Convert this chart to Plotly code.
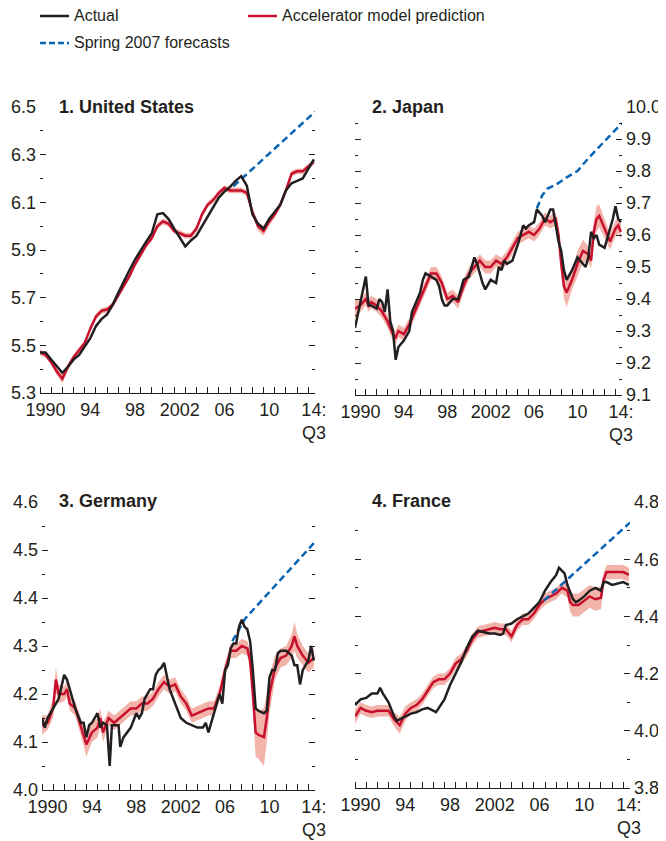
import plotly.graph_objects as go

# ---------------- DATA ----------------
years_labels = ['1990', '94', '98', '2002', '06', '10', '14:<br>Q3']
label_pos = [1990.5, 1994.5, 1998.5, 2002.5, 2006.5, 2010.5, 2014.5]
year_ticks = list(range(1990, 2015))

# United States
us_x = [1990.0 + 0.5 * i for i in range(50)]
us_actual = [5.47, 5.47, 5.44, 5.41, 5.385, 5.41, 5.44, 5.46, 5.495, 5.53,
             5.58, 5.61, 5.63, 5.67, 5.72, 5.77, 5.815, 5.86, 5.90, 5.935,
             5.97, 6.05, 6.055, 6.03, 5.99, 5.95, 5.915, 5.94, 5.96, 6.0,
             6.04, 6.08, 6.12, 6.145, 6.165, 6.19, 6.21, 6.17, 6.05, 6.01,
             5.99, 6.03, 6.06, 6.09, 6.15, 6.18, 6.19, 6.20, 6.24, 6.28]
us_pred = [5.47, 5.46, 5.43, 5.39, 5.36, 5.41, 5.45, 5.48, 5.51, 5.57,
           5.62, 5.645, 5.65, 5.67, 5.71, 5.75, 5.79, 5.84, 5.88, 5.92,
           5.95, 6.00, 6.02, 6.01, 5.98, 5.97, 5.96, 5.96, 5.99, 6.05,
           6.09, 6.11, 6.14, 6.16, 6.15, 6.15, 6.15, 6.14, 6.06, 6.00,
           5.98, 6.02, 6.05, 6.09, 6.15, 6.22, 6.23, 6.23, 6.25, 6.27]
us_band = [0.012, 0.012, 0.012, 0.015, 0.02, 0.015, 0.012, 0.012, 0.012, 0.012,
           0.012, 0.012, 0.012, 0.012, 0.012, 0.012, 0.012, 0.012, 0.012, 0.012,
           0.012, 0.012, 0.012, 0.012, 0.012, 0.012, 0.012, 0.012, 0.012, 0.012,
           0.012, 0.012, 0.012, 0.012, 0.012, 0.012, 0.012, 0.012, 0.015, 0.018,
           0.02, 0.018, 0.015, 0.012, 0.012, 0.012, 0.012, 0.012, 0.012, 0.012]
us_fc_x = [2007.3, 2008.0, 2010.0, 2012.0, 2014.6]
us_fc = [6.167, 6.197, 6.283, 6.369, 6.48]

# Japan
jp_ax = [1990.0, 1990.25, 1990.5, 1990.75, 1991.0, 1991.25, 1991.5, 1992.0, 1992.25, 1992.5,
         1992.75, 1993.0, 1993.25, 1993.5, 1993.75, 1994.0, 1994.5, 1995.0, 1995.25, 1995.5,
         1996.0, 1996.25, 1996.5, 1997.0, 1997.5, 1997.75, 1998.0, 1998.25, 1998.5, 1999.0,
         1999.5, 2000.0, 2000.5, 2001.0, 2001.25, 2001.5, 2001.75, 2002.0, 2002.5, 2003.0,
         2003.25, 2003.5, 2003.75, 2004.0, 2004.5, 2005.0, 2005.5, 2005.75, 2006.0, 2006.5,
         2006.75, 2007.0, 2007.25, 2007.5, 2007.75, 2008.0, 2008.25, 2008.5, 2008.75, 2009.0,
         2009.25, 2009.5, 2010.0, 2010.5, 2011.0, 2011.25, 2011.5, 2011.75, 2012.0, 2012.25,
         2012.5, 2013.0, 2013.25, 2013.5, 2013.75, 2014.0, 2014.25, 2014.5]
jp_actual = [9.31, 9.35, 9.38, 9.43, 9.47, 9.38, 9.38, 9.37, 9.40, 9.39,
             9.36, 9.43, 9.33, 9.30, 9.21, 9.25, 9.27, 9.30, 9.36, 9.38,
             9.42, 9.46, 9.48, 9.47, 9.46, 9.44, 9.40, 9.38, 9.38, 9.40,
             9.40, 9.46, 9.47, 9.53, 9.51, 9.48, 9.45, 9.43, 9.46, 9.45,
             9.50, 9.49, 9.52, 9.51, 9.52, 9.57, 9.63, 9.62, 9.63, 9.64,
             9.68, 9.67, 9.66, 9.64, 9.66, 9.68, 9.68, 9.63, 9.58, 9.55,
             9.49, 9.46, 9.49, 9.53, 9.51, 9.50, 9.53, 9.61, 9.59, 9.60,
             9.57, 9.56, 9.59, 9.62, 9.65, 9.69, 9.65, 9.64]
jp_px = [1990.0, 1990.5, 1991.0, 1991.25, 1991.5, 1992.0, 1992.5, 1993.0, 1993.5, 1993.75,
         1994.0, 1994.5, 1995.0, 1995.5, 1996.0, 1996.5, 1997.0, 1997.5, 1998.0, 1998.5,
         1999.0, 1999.5, 2000.0, 2000.5, 2001.0, 2001.5, 2002.0, 2002.5, 2003.0, 2003.5,
         2004.0, 2004.5, 2005.0, 2005.5, 2006.0, 2006.5, 2007.0, 2007.5, 2008.0, 2008.5,
         2008.75, 2009.0, 2009.25, 2009.5, 2010.0, 2010.5, 2011.0, 2011.5, 2011.75, 2012.0,
         2012.25, 2012.5, 2013.0, 2013.5, 2014.0, 2014.25, 2014.5]
jp_pred = [9.37, 9.38, 9.40, 9.38, 9.39, 9.38, 9.36, 9.33, 9.29, 9.28,
           9.30, 9.29, 9.32, 9.36, 9.40, 9.44, 9.48, 9.48, 9.45, 9.40,
           9.41, 9.39, 9.44, 9.48, 9.50, 9.52, 9.50, 9.50, 9.52, 9.51,
           9.53, 9.56, 9.59, 9.60, 9.61, 9.60, 9.62, 9.65, 9.64, 9.65,
           9.60, 9.51, 9.44, 9.42, 9.46, 9.51, 9.55, 9.54, 9.52, 9.61,
           9.65, 9.66, 9.62, 9.58, 9.62, 9.63, 9.61]
jp_band = [0.03, 0.02, 0.02, 0.02, 0.02, 0.02, 0.02, 0.02, 0.02, 0.02,
           0.02, 0.02, 0.02, 0.02, 0.02, 0.02, 0.02, 0.02, 0.02, 0.02,
           0.02, 0.02, 0.02, 0.02, 0.02, 0.02, 0.02, 0.02, 0.02, 0.02,
           0.02, 0.02, 0.02, 0.02, 0.02, 0.02, 0.02, 0.02, 0.02, 0.02,
           0.02, 0.03, 0.04, 0.045, 0.03, 0.04, 0.035, 0.025, 0.025, 0.035,
           0.04, 0.035, 0.03, 0.025, 0.025, 0.025, 0.025]
jp_fc_x = [2006.75, 2007.25, 2007.75, 2008.5, 2009.5, 2010.5, 2011.5, 2012.5, 2013.5, 2014.6]
jp_fc = [9.683, 9.724, 9.745, 9.757, 9.78, 9.80, 9.84, 9.875, 9.91, 9.95]

# Germany
de_ax = [1990.0, 1990.25, 1990.5, 1991.0, 1991.5, 1992.0, 1992.25, 1992.5, 1993.0, 1993.5,
         1993.75, 1994.0, 1994.25, 1994.5, 1995.0, 1995.25, 1995.5, 1995.85, 1996.1, 1996.3,
         1996.9, 1997.05, 1997.35, 1998.0, 1998.5, 1998.75, 1999.0, 1999.25, 1999.5, 1999.75,
         2000.0, 2000.25, 2000.5, 2000.75, 2001.0, 2001.25, 2001.5, 2002.0, 2002.5, 2003.0,
         2003.5, 2004.0, 2004.5, 2004.75, 2005.0, 2005.5, 2006.0, 2006.25, 2006.5, 2006.75,
         2007.0, 2007.25, 2007.5, 2007.75, 2008.0, 2008.25, 2008.5, 2008.75, 2009.0, 2009.25,
         2009.5, 2010.0, 2010.25, 2010.5, 2010.75, 2011.0, 2011.25, 2011.5, 2012.0, 2012.5,
         2012.75, 2013.0, 2013.25, 2013.5, 2014.0, 2014.25, 2014.5]
de_actual = [4.15, 4.13, 4.15, 4.17, 4.19, 4.24, 4.23, 4.21, 4.17, 4.14,
             4.14, 4.11, 4.135, 4.14, 4.16, 4.13, 4.14, 4.135, 4.05, 4.135,
             4.135, 4.09, 4.11, 4.13, 4.16, 4.15, 4.16, 4.19, 4.20, 4.21,
             4.21, 4.24, 4.25, 4.255, 4.265, 4.24, 4.21, 4.18, 4.15, 4.14,
             4.135, 4.13, 4.13, 4.14, 4.12, 4.16, 4.20, 4.18, 4.25, 4.26,
             4.295, 4.305, 4.305, 4.34, 4.355, 4.34, 4.335, 4.31, 4.25, 4.17,
             4.165, 4.16, 4.165, 4.235, 4.25, 4.25, 4.285, 4.29, 4.29, 4.28,
             4.26, 4.26, 4.22, 4.25, 4.27, 4.30, 4.27]
de_px = [1990.0, 1990.5, 1991.0, 1991.25, 1991.5, 1992.0, 1992.25, 1992.5, 1993.0, 1993.5,
         1994.0, 1994.5, 1995.0, 1995.25, 1995.5, 1996.0, 1996.5, 1997.0, 1997.5, 1998.0,
         1998.5, 1999.0, 1999.5, 2000.0, 2000.5, 2001.0, 2001.5, 2002.0, 2002.5, 2003.0,
         2003.5, 2004.0, 2004.5, 2005.0, 2005.5, 2006.0, 2006.5, 2007.0, 2007.5, 2008.0,
         2008.5, 2008.75, 2009.0, 2009.25, 2009.5, 2010.0, 2010.25, 2010.5, 2011.0, 2011.5,
         2012.0, 2012.5, 2012.75, 2013.0, 2013.5, 2014.0, 2014.5]
de_pred = [4.135, 4.14, 4.17, 4.23, 4.20, 4.20, 4.21, 4.18, 4.17, 4.13,
           4.095, 4.12, 4.13, 4.15, 4.12, 4.15, 4.14, 4.15, 4.16, 4.17,
           4.17, 4.18, 4.18, 4.19, 4.21, 4.225, 4.215, 4.22, 4.195, 4.18,
           4.155, 4.16, 4.165, 4.17, 4.17, 4.20, 4.25, 4.29, 4.29, 4.30,
           4.295, 4.27, 4.20, 4.12, 4.115, 4.11, 4.15, 4.20, 4.255, 4.275,
           4.28, 4.30, 4.32, 4.30, 4.28, 4.265, 4.275]
de_band = [0.02, 0.015, 0.02, 0.025, 0.02, 0.015, 0.015, 0.015, 0.015, 0.02,
           0.025, 0.02, 0.02, 0.02, 0.02, 0.015, 0.015, 0.015, 0.015, 0.015,
           0.015, 0.015, 0.015, 0.015, 0.015, 0.015, 0.015, 0.015, 0.015, 0.015,
           0.015, 0.015, 0.015, 0.015, 0.015, 0.015, 0.015, 0.015, 0.015, 0.015,
           0.015, 0.02, 0.03, 0.05, 0.05, 0.06, 0.05, 0.04, 0.025, 0.02,
           0.02, 0.025, 0.03, 0.025, 0.02, 0.02, 0.02]
de_fc_x = [2007.15, 2008.3, 2010.0, 2012.0, 2014.6]
de_fc = [4.31, 4.357, 4.40, 4.45, 4.517]

# France
fr_ax = [1990.0, 1990.5, 1991.0, 1991.5, 1992.0, 1992.25, 1992.5, 1993.0, 1993.5, 1993.75,
         1994.0, 1994.5, 1995.0, 1995.5, 1996.0, 1996.5, 1997.0, 1997.25, 1997.5, 1998.0,
         1998.5, 1999.0, 1999.5, 2000.0, 2000.5, 2001.0, 2001.5, 2002.0, 2002.5, 2003.0,
         2003.25, 2003.5, 2004.0, 2004.5, 2005.0, 2005.5, 2006.0, 2006.5, 2007.0, 2007.5,
         2008.0, 2008.25, 2008.5, 2008.75, 2009.0, 2009.5, 2009.75, 2010.0, 2010.5, 2011.0,
         2011.5, 2012.0, 2012.25, 2012.5, 2013.0, 2013.5, 2014.0, 2014.5]
fr_actual = [4.09, 4.11, 4.115, 4.13, 4.13, 4.15, 4.13, 4.10, 4.05, 4.035,
             4.04, 4.05, 4.06, 4.065, 4.075, 4.08, 4.07, 4.065, 4.08, 4.11,
             4.16, 4.20, 4.24, 4.29, 4.33, 4.35, 4.345, 4.34, 4.34, 4.335,
             4.34, 4.37, 4.375, 4.39, 4.40, 4.41, 4.43, 4.45, 4.49, 4.52,
             4.545, 4.57, 4.56, 4.55, 4.51, 4.46, 4.45, 4.455, 4.47, 4.49,
             4.50, 4.49, 4.52, 4.52, 4.51, 4.515, 4.52, 4.51]
fr_px = [1990.0, 1990.5, 1991.0, 1991.5, 1992.0, 1992.5, 1993.0, 1993.5, 1994.0, 1994.5,
         1995.0, 1995.5, 1996.0, 1996.5, 1997.0, 1997.5, 1998.0, 1998.5, 1999.0, 1999.5,
         2000.0, 2000.5, 2001.0, 2001.5, 2002.0, 2002.5, 2003.0, 2003.5, 2004.0, 2004.5,
         2005.0, 2005.5, 2006.0, 2006.5, 2007.0, 2007.5, 2008.0, 2008.5, 2009.0, 2009.25,
         2009.5, 2010.0, 2010.5, 2011.0, 2011.5, 2012.0, 2012.25, 2012.5, 2013.0, 2013.5,
         2014.0, 2014.5]
fr_pred = [4.05, 4.08, 4.07, 4.065, 4.07, 4.07, 4.07, 4.04, 4.02, 4.06,
           4.08, 4.09, 4.11, 4.14, 4.17, 4.18, 4.18, 4.20, 4.235, 4.25,
           4.28, 4.32, 4.345, 4.35, 4.355, 4.36, 4.355, 4.355, 4.33, 4.37,
           4.39, 4.39, 4.41, 4.44, 4.46, 4.47, 4.48, 4.50, 4.49, 4.45,
           4.44, 4.44, 4.455, 4.47, 4.46, 4.465, 4.53, 4.555, 4.555, 4.555,
           4.555, 4.545]
fr_band = [0.025, 0.02, 0.02, 0.02, 0.02, 0.02, 0.02, 0.025, 0.03, 0.025,
           0.02, 0.02, 0.02, 0.02, 0.02, 0.02, 0.02, 0.02, 0.02, 0.02,
           0.02, 0.02, 0.02, 0.02, 0.02, 0.02, 0.02, 0.02, 0.02, 0.02,
           0.02, 0.02, 0.02, 0.02, 0.02, 0.02, 0.02, 0.02, 0.025, 0.035,
           0.04, 0.04, 0.04, 0.04, 0.04, 0.04, 0.025, 0.025, 0.025, 0.025,
           0.025, 0.025]
fr_fc_x = [2006.9, 2008.0, 2010.0, 2012.0, 2014.6]
fr_fc = [4.455, 4.494, 4.565, 4.636, 4.728]

# ---------------- STYLE ----------------
PAGE_OFF = 8            # default body margin of the written html page
W, H = 666 - PAGE_OFF, 841 - PAGE_OFF
BLACK = '#231f20'
RED = '#c8102e'
BANDC = '#f2b4aa'
BLUE = '#0a64b4'
FONT = 'Liberation Sans Narrow, Arial Narrow, Liberation Sans, Arial, sans-serif'


def px(x):
    return (x - PAGE_OFF) / W


def py(y):
    return 1 - (y - PAGE_OFF) / H


panels = [
    dict(title='1. United States', ax=us_x, act=us_actual, pxv=us_x, pred=us_pred, band=us_band,
         fcx=us_fc_x, fc=us_fc, xd=(40, 315), yd=(107, 393), yr=(5.3, 6.5), dt=0.2, mdt=0.1,
         side='left', tx=57, ty=107),
    dict(title='2. Japan', ax=jp_ax, act=jp_actual, pxv=jp_px, pred=jp_pred, band=jp_band,
         fcx=jp_fc_x, fc=jp_fc, xd=(355, 622), yd=(107, 395), yr=(9.1, 10.0), dt=0.1, mdt=0.05,
         side='right', tx=370, ty=107),
    dict(title='3. Germany', ax=de_ax, act=de_actual, pxv=de_px, pred=de_pred, band=de_band,
         fcx=de_fc_x, fc=de_fc, xd=(42, 315), yd=(502, 790), yr=(4.0, 4.6), dt=0.1, mdt=0.05,
         side='left', tx=57, ty=501),
    dict(title='4. France', ax=fr_ax, act=fr_actual, pxv=fr_px, pred=fr_pred, band=fr_band,
         fcx=fr_fc_x, fc=fr_fc, xd=(355, 630), yd=(502, 788), yr=(3.8, 4.8), dt=0.2, mdt=0.1,
         side='right', tx=370, ty=501),
]

fig = go.Figure()
layout = dict(width=W, height=H, margin=dict(l=0, r=0, t=0, b=0, autoexpand=False),
              paper_bgcolor='white', plot_bgcolor='rgba(0,0,0,0)', showlegend=False,
              font=dict(family=FONT, color=BLACK, size=18))
annotations = []
shapes = []

for i, p in enumerate(panels, start=1):
    xa = 'x' if i == 1 else f'x{i}'
    ya = 'y' if i == 1 else f'y{i}'
    lo = [v - b for v, b in zip(p['pred'], p['band'])]
    hi = [v + b for v, b in zip(p['pred'], p['band'])]
    fig.add_trace(go.Scatter(x=p['pxv'], y=lo, mode='lines', line=dict(width=0, color=BANDC),
                             xaxis=xa, yaxis=ya, hoverinfo='skip'))
    fig.add_trace(go.Scatter(x=p['pxv'], y=hi, mode='lines', line=dict(width=0, color=BANDC),
                             fill='tonexty', fillcolor=BANDC, xaxis=xa, yaxis=ya, hoverinfo='skip'))
    fig.add_trace(go.Scatter(x=p['pxv'], y=p['pred'], mode='lines', line=dict(color=RED, width=2.5),
                             xaxis=xa, yaxis=ya, name='Accelerator model prediction'))
    fig.add_trace(go.Scatter(x=p['fcx'], y=p['fc'], mode='lines',
                             line=dict(color=BLUE, width=2.5, dash='7px,4px'),
                             xaxis=xa, yaxis=ya, name='Spring 2007 forecasts'))
    fig.add_trace(go.Scatter(x=p['ax'], y=p['act'], mode='lines', line=dict(color=BLACK, width=2.5),
                             xaxis=xa, yaxis=ya, name='Actual'))

    xkey = 'xaxis' if i == 1 else f'xaxis{i}'
    ykey = 'yaxis' if i == 1 else f'yaxis{i}'
    layout[xkey] = dict(domain=[px(p['xd'][0]), px(p['xd'][1])], range=[1990, 2014.6],
                        anchor=ya, showline=True, linecolor=BLACK, linewidth=1, automargin=False,
                        showgrid=False, zeroline=False, ticks='', tickmode='array',
                        tickvals=label_pos, ticktext=years_labels,
                        tickfont=dict(size=18, family=FONT, color=BLACK),
                        minor=dict(tickmode='array', tickvals=year_ticks, ticks='inside',
                                   ticklen=6, tickcolor=BLACK, tickwidth=1, showgrid=False))
    layout[ykey] = dict(domain=[py(p['yd'][1]), py(p['yd'][0])], range=list(p['yr']),
                        anchor=xa, side=p['side'], showline=False, showgrid=False, zeroline=False,
                        automargin=False, ticklabelstandoff=3,
                        tickmode='linear', tick0=p['yr'][0], dtick=p['dt'], tickformat='.1f',
                        ticks='inside', ticklen=6, tickcolor=BLACK, tickwidth=1, mirror='ticks',
                        tickfont=dict(size=18, family=FONT, color=BLACK),
                        minor=dict(tickmode='linear', tick0=p['yr'][0], dtick=p['mdt'],
                                   ticks='inside', ticklen=3, tickcolor=BLACK, tickwidth=1,
                                   showgrid=False))
    annotations.append(dict(text='<b>' + p['title'] + '</b>', x=px(p['tx']), y=py(p['ty']),
                            xref='paper', yref='paper', xanchor='left', yanchor='middle',
                            showarrow=False, font=dict(size=18, family=FONT, color=BLACK)))

# legend (drawn in paper space)
legend_items = [('Actual', BLACK, 'solid', 40, 16), ('Accelerator model prediction', RED, 'solid', 248, 16),
                ('Spring 2007 forecasts', BLUE, 'dash', 40, 43)]
for name, col, dash, lx, ly in legend_items:
    shapes.append(dict(type='line', xref='paper', yref='paper', x0=px(lx), x1=px(lx + 29),
                       y0=py(ly), y1=py(ly), line=dict(color=col, width=2.5,
                                                      dash='6px,3px' if dash == 'dash' else 'solid')))
    annotations.append(dict(text=name, x=px(lx + 32), y=py(ly), xref='paper', yref='paper',
                            xanchor='left', yanchor='middle', showarrow=False,
                            font=dict(size=16, family=FONT, color=BLACK)))

layout['annotations'] = annotations
layout['shapes'] = shapes
fig.update_layout(**layout)
fig.write_html('out.html')
